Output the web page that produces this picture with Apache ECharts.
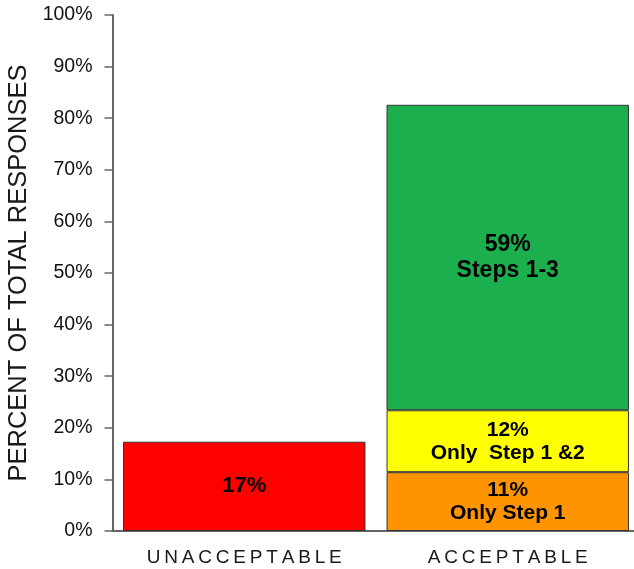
<!DOCTYPE html>
<html>
<head>
<meta charset="utf-8">
<script src="https://cdn.jsdelivr.net/npm/echarts@6/dist/echarts.min.js"></script>
<style>
  html, body { margin: 0; padding: 0; background: #fff; }
  #chart { width: 634px; height: 569px; }
</style>
</head>
<body>
<div id="chart"></div>
<script>
// Categories along the x axis
const categories = ['UNACCEPTABLE', 'ACCEPTABLE'];

// Percent of total responses per segment
const unacceptable = [17.3, null];
const onlyStep1 = [null, 11.4];
const onlyStep12 = [null, 12.0];
const steps13 = [null, 59.2];

// Second line of each segment label
const segmentNames = {
  unacceptable: '',
  onlyStep1: 'Only Step 1',
  onlyStep12: 'Only  Step 1 &2',
  steps13: 'Steps 1-3'
};

// Y axis ticks
const yTicks = { min: 0, max: 100, interval: 10 };

const FONT = '"Liberation Sans", Arial, sans-serif';

// Spread letters apart with thin spaces
function spaced(s) {
  return s.split('').join('\u2009');
}

function segLabel(name, fontSize, lineHeight) {
  return {
    show: true,
    position: 'inside',
    color: '#000',
    fontFamily: FONT,
    fontWeight: 'bold',
    fontSize: fontSize,
    lineHeight: lineHeight,
    align: 'center',
    formatter: function (p) {
      const v = Math.round(p.value) + '%';
      return name ? v + '\n' + name : v;
    }
  };
}

function seg(key, data, color, fontSize, lineHeight) {
  return {
    name: key,
    type: 'bar',
    stack: 'total',
    barWidth: '92%',
    data: data,
    itemStyle: { color: color, borderColor: '#333', borderWidth: 1 },
    label: segLabel(segmentNames[key], fontSize, lineHeight),
    emphasis: { disabled: true }
  };
}

const chart = echarts.init(document.getElementById('chart'), null, { renderer: 'canvas' });
chart.setOption({
  animation: false,
  backgroundColor: '#fff',
  grid: {
    left: 112.5, top: 15, height: 516, width: 527,
    containLabel: false,
    outerBoundsMode: 'none'
  },
  xAxis: {
    type: 'category',
    data: categories,
    axisLine: { lineStyle: { color: '#666', width: 2 } },
    axisTick: { show: false },
    axisLabel: {
      color: '#1a1a1a',
      fontFamily: FONT,
      fontSize: 19,
      margin: 17,
      formatter: function (v) { return spaced(v); }
    }
  },
  yAxis: {
    type: 'value',
    min: yTicks.min,
    max: yTicks.max,
    interval: yTicks.interval,
    name: 'PERCENT OF TOTAL RESPONSES',
    nameLocation: 'middle',
    nameGap: 77,
    nameTextStyle: { color: '#1a1a1a', fontFamily: FONT, fontSize: 25.5 },
    axisLine: { show: true, lineStyle: { color: '#666', width: 2 } },
    axisTick: { show: true, length: 8, lineStyle: { color: '#666', width: 1.5 } },
    splitLine: { show: false },
    axisLabel: {
      color: '#111',
      fontFamily: FONT,
      fontSize: 19.5,
      margin: 20,
      formatter: '{value}%'
    }
  },
  series: [
    seg('unacceptable', unacceptable, '#FF0000', 22, 26),
    seg('onlyStep1', onlyStep1, '#FF9400', 21, 23),
    seg('onlyStep12', onlyStep12, '#FFFF00', 21, 23),
    seg('steps13', steps13, '#1CAF4D', 23, 26)
  ]
});
</script>
</body>
</html>
